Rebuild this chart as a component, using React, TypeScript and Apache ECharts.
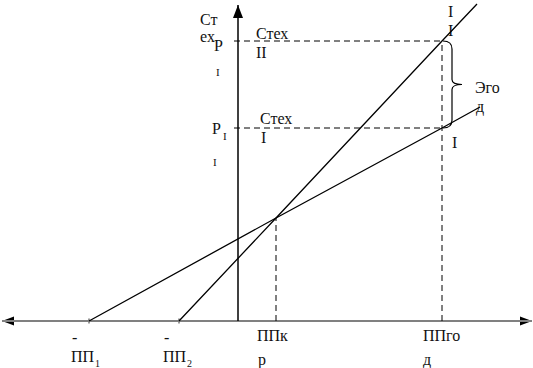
import React, { useEffect, useRef } from "react";
import * as echarts from "echarts";

// Break-even chart: values in abstract units (origin = axes crossing)
const xMarks = [-14.9, -5.9, 3.8, 20.4]; // -ПП1, -ПП2, ППкр, ППгод
const costLevels = [19.3, 28.0]; // РI, РII
const crossY = 10.3; // level of lines' intersection
const lineI = [[-14.9, 0], [3.8, 10.3], [20.4, 19.3], [24.2, 21.4]];
const lineII = [[-5.9, 0], [3.8, 10.3], [20.4, 28.0], [23.9, 31.7]];
const xAxisEnds = [-23.6, 29.4];
const yAxisTop = 31.6;

const FONT = "Liberation Serif";

type Lbl = [string, number, number, number];
const labels: Lbl[] = [
  ["Ст", 200, 19, 16],
  ["ех", 200, 36, 16],
  ["Р", 214, 45, 16],
  ["I", 216, 72, 11],
  ["Р", 212, 128, 16],
  ["I", 223, 136, 11],
  ["I", 213, 162, 11],
  ["Стех", 256, 33, 16],
  ["II", 256, 52, 16],
  ["Стех", 260, 118, 16],
  ["I", 261, 137, 16],
  ["I", 448, 11, 16],
  ["I", 448, 30, 16],
  ["I", 452, 142, 16],
  ["Эго", 475, 87, 16],
  ["д", 476, 106, 16],
  ["-", 72, 337, 16],
  ["ПП", 71, 356, 16],
  ["1", 95, 363, 10],
  ["-", 164, 337, 16],
  ["ПП", 163, 356, 16],
  ["2", 187, 363, 10],
  ["ППк", 257, 335, 16],
  ["р", 258, 359, 16],
  ["ППго", 423, 335, 16],
  ["д", 423, 359, 16],
];

const dashStyle = { color: "#000", width: 1, type: [6, 4] as any };

export default function App() {
  const ref = useRef<HTMLDivElement>(null);
  useEffect(() => {
    if (!ref.current) return;
    const chart = echarts.init(ref.current, null, { renderer: "svg" });
    const ppgod = xMarks[3];
    const ppkr = xMarks[2];
    const option: any = {
      animation: false,
      backgroundColor: "#fff",
      grid: { left: 0, right: 0, top: 0, bottom: 0 },
      xAxis: { type: "value", min: -23.8, max: 29.5, show: false },
      yAxis: { type: "value", min: -4.7, max: 32.1, show: false },
      graphic: labels.map(([t, x, y, s]) => ({
        type: "text",
        x,
        y,
        silent: true,
        style: {
          text: t,
          fontSize: s,
          fontFamily: FONT,
          fill: "#111",
          align: "left",
          verticalAlign: "middle",
        },
      })),
      series: [
        {
          type: "line",
          data: [[xAxisEnds[0], 0], [xAxisEnds[1], 0]],
          symbol: "none",
          silent: true,
          lineStyle: { color: "#808080", width: 2 },
        },
        {
          type: "line",
          data: [[0, 0], [0, yAxisTop]],
          symbol: "none",
          silent: true,
          lineStyle: { color: "#000", width: 1.5 },
        },
        {
          type: "line",
          name: "Стех I",
          data: lineI,
          symbol: "none",
          silent: true,
          lineStyle: { color: "#000", width: 1.3 },
        },
        {
          type: "line",
          name: "Стех II",
          data: lineII,
          symbol: "none",
          silent: true,
          lineStyle: { color: "#000", width: 1.3 },
        },
        ...costLevels.map((c) => ({
          type: "line",
          data: [[-0.4, c], [ppgod, c]],
          symbol: "none",
          silent: true,
          lineStyle: dashStyle,
        })),
        {
          type: "line",
          data: [[ppgod, 0], [ppgod, costLevels[1]]],
          symbol: "none",
          silent: true,
          lineStyle: dashStyle,
        },
        {
          type: "line",
          data: [[ppkr, 0], [ppkr, crossY]],
          symbol: "none",
          silent: true,
          lineStyle: dashStyle,
        },
        {
          type: "scatter",
          data: [[xMarks[0], 0], [xMarks[1], 0]],
          symbol: "rect",
          symbolSize: [1, 5],
          silent: true,
          itemStyle: { color: "#000" },
        },
        {
          type: "custom",
          silent: true,
          clip: false,
          data: [[xAxisEnds[0], 0, 0], [xAxisEnds[1], 0, 1], [0, yAxisTop, 2]],
          renderItem: (params: any, api: any) => {
            const p = api.coord([api.value(0), api.value(1)]);
            const d = api.value(2);
            const [x, y] = p;
            let pts: number[][];
            if (d === 0) pts = [[x, y], [x + 12, y - 4.5], [x + 12, y + 4.5]];
            else if (d === 1) pts = [[x, y], [x - 12, y - 4.5], [x - 12, y + 4.5]];
            else pts = [[x, y], [x - 5, y + 13], [x + 5, y + 13]];
            return { type: "polygon", shape: { points: pts }, style: { fill: "#000" } };
          },
        },
        {
          type: "custom",
          silent: true,
          clip: false,
          data: [[ppgod, costLevels[1], costLevels[0]]],
          renderItem: (params: any, api: any) => {
            const t = api.coord([api.value(0), api.value(1)]);
            const b = api.coord([api.value(0), api.value(2)]);
            const x = t[0];
            const mid = (t[1] + b[1]) / 2;
            const d =
              `M${x + 1} ${t[1]} Q${x + 10} ${t[1]} ${x + 10} ${t[1] + 8} ` +
              `L${x + 10} ${mid - 5} Q${x + 10} ${mid} ${x + 20} ${mid} ` +
              `Q${x + 10} ${mid} ${x + 10} ${mid + 5} L${x + 10} ${b[1] - 8} ` +
              `Q${x + 10} ${b[1]} ${x + 1} ${b[1]}`;
            return {
              type: "path",
              shape: { pathData: d },
              style: { stroke: "#000", fill: "none", lineWidth: 1.2 },
            };
          },
        },
      ],
    };
    chart.setOption(option);
    return () => chart.dispose();
  }, []);
  return (
    <div
      ref={ref}
      style={{ position: "absolute", left: 0, top: 0, width: 533, height: 368 }}
    />
  );
}
